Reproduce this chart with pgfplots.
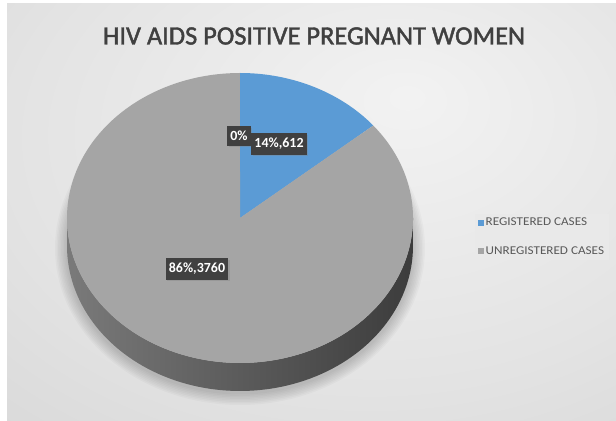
\documentclass[border=0pt]{standalone}
\usepackage{pgfplots}
\pgfplotsset{compat=1.18}
\usepackage{pgfplotstable}
\usepackage{fontspec}
\setmainfont{Carlito}
\newfontfamily\titlefont[FakeBold=1.6]{Carlito}
\newfontfamily\legfont[FakeStretch=1.1]{Carlito}
\usetikzlibrary{shadows}
\definecolor{pieblue}{HTML}{5B9BD5}
\definecolor{piegray}{HTML}{A5A5A5}
\definecolor{lblbox}{HTML}{404040}
\definecolor{titlecol}{HTML}{404040}
\definecolor{legcol}{HTML}{595959}
\definecolor{legbg}{HTML}{E9E9E9}
\definecolor{sideL}{HTML}{7A7A7A}
\definecolor{sideM}{HTML}{4A4A4A}
\definecolor{sideR}{HTML}{3C3C3C}
\pgfdeclareradialshading{bgshade}{\pgfpoint{8bp}{14bp}}{color(0bp)=(white!95!black); color(30bp)=(white!89!black); color(60bp)=(white!81!black); color(80bp)=(white!77!black)}

\pgfplotstableread{
label value
Registered 612
Unregistered 3760
}\piedata

\begin{document}
\begin{tikzpicture}
\pgfplotstablegetelem{0}{value}\of\piedata \let\va\pgfplotsretval
\pgfplotstablegetelem{1}{value}\of\piedata \let\vb\pgfplotsretval
\pgfmathsetmacro\fa{\va/(\va+\vb)}
\pgfmathsetmacro\fb{\vb/(\va+\vb)}
\pgfmathsetmacro\aEnd{90-360*\fa}
\pgfmathsetmacro\bEnd{\aEnd-360*\fb}
\fill[white] (0bp,0bp) rectangle (616bp,421bp);
\shade[shading=bgshade] (7bp,0bp) rectangle (616bp,417bp);
\begin{axis}[
  scale only axis, width=616bp, height=421bp,
  xmin=0, xmax=616, ymin=0, ymax=421,
  hide axis, clip=false,
  legend style={at={(axis cs:475,207)}, anchor=north west, draw=none,
    fill=legbg, text=legcol,
    font=\legfont\fontsize{12}{14}\selectfont,
    row sep=17bp, inner xsep=3bp, inner ysep=3bp, nodes={inner xsep=1.5bp, inner ysep=1bp}},
  legend cell align=left,
  legend image code/.code={\fill[#1] (0bp,-3bp) rectangle (6bp,3bp);},
]
% soft shadow under the pie
\pgfplotsinvokeforeach{1,...,8}{
  \fill[black, opacity=0.025] (axis cs:240,173) ellipse [x radius=173+#1*1.5, y radius=145+#1*1.5];
}
% side of the pie
\addplot[forget plot, draw=none, left color=sideL, middle color=sideM, right color=sideR,
  domain=180:540, samples=181]
  ({240+173*cos(x)},{203-145*abs(sin(x))-28*(x>360)}) -- cycle;
% registered slice
\addplot[fill=pieblue, draw=none, domain=\aEnd:90, samples=60]
  ({240+173*cos(x)},{203+145*sin(x)}) -- (axis cs:240,203) -- cycle;
\addlegendentry{REGISTERED CASES}
% unregistered slice
\addplot[fill=piegray, draw=none, domain=\bEnd:\aEnd, samples=240]
  ({240+173*cos(x)},{203+145*sin(x)}) -- (axis cs:240,203) -- cycle;
\addlegendentry{UNREGISTERED CASES}
% title
\node[font=\titlefont\fontsize{26.5}{32}\selectfont, text=titlecol] at (axis cs:314,385) {HIV AIDS POSITIVE PREGNANT WOMEN};
% data labels
\tikzset{lbl/.style={fill=lblbox, text=white, font=\bfseries\fontsize{14}{16}\selectfont,
  inner xsep=3bp, inner ysep=5bp, drop shadow={opacity=0.35, shadow xshift=1.5bp, shadow yshift=-1.5bp}}}
\node[lbl] at (axis cs:239,285) {0\%};
\node[lbl] at (axis cs:279,277) {14\%,612};
\node[lbl] at (axis cs:197,152) {86\%,3760};
\end{axis}
\end{tikzpicture}
\end{document}
